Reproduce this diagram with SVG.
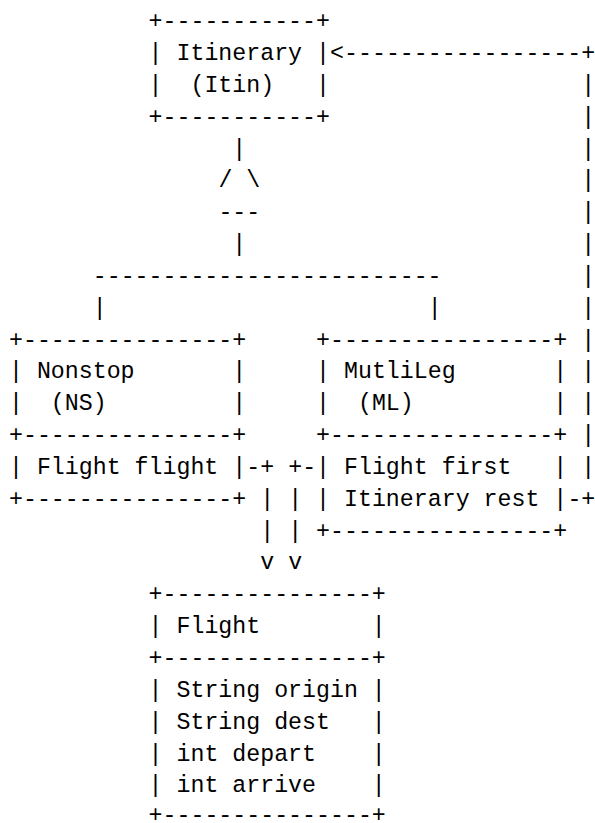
<svg xmlns="http://www.w3.org/2000/svg" width="595" height="823" viewBox="0 0 595 823">
  <style>
    text { font-family: "Liberation Mono", "DejaVu Sans Mono", monospace; font-size: 23.26px; fill: #000; white-space: pre; }
  </style>
  <rect x="0" y="0" width="595" height="823" fill="#fff"/>

  <!-- character grid: column c at x = 9 + 13.96*c, row n baseline at y = 28.2 + 31.84*(n-1) -->

  <g id="itinerary">
    <text x="148.6" y="28.2" xml:space="preserve">+-----------+</text>
    <text x="148.6" y="60.04" xml:space="preserve">| Itinerary |</text>
    <text x="148.6" y="91.88" xml:space="preserve">|  (Itin)   |</text>
    <text x="148.6" y="123.72" xml:space="preserve">+-----------+</text>
  </g>

  <g id="nonstop">
    <text x="9" y="346.6" xml:space="preserve">+---------------+</text>
    <text x="9" y="378.44" xml:space="preserve">| Nonstop       |</text>
    <text x="9" y="410.28" xml:space="preserve">|  (NS)         |</text>
    <text x="9" y="442.12" xml:space="preserve">+---------------+</text>
    <text x="9" y="473.96" xml:space="preserve">| Flight flight |</text>
    <text x="9" y="505.8" xml:space="preserve">+---------------+</text>
  </g>

  <g id="multileg">
    <text x="316.12" y="346.6" xml:space="preserve">+----------------+</text>
    <text x="316.12" y="378.44" xml:space="preserve">| MutliLeg       |</text>
    <text x="316.12" y="410.28" xml:space="preserve">|  (ML)          |</text>
    <text x="316.12" y="442.12" xml:space="preserve">+----------------+</text>
    <text x="316.12" y="473.96" xml:space="preserve">| Flight first   |</text>
    <text x="316.12" y="505.8" xml:space="preserve">| Itinerary rest |</text>
    <text x="316.12" y="537.64" xml:space="preserve">+----------------+</text>
  </g>

  <g id="flight">
    <text x="148.6" y="601.32" xml:space="preserve">+---------------+</text>
    <text x="148.6" y="633.16" xml:space="preserve">| Flight        |</text>
    <text x="148.6" y="665" xml:space="preserve">+---------------+</text>
    <text x="148.6" y="696.84" xml:space="preserve">| String origin |</text>
    <text x="148.6" y="728.68" xml:space="preserve">| String dest   |</text>
    <text x="148.6" y="760.52" xml:space="preserve">| int depart    |</text>
    <text x="148.6" y="792.36" xml:space="preserve">| int arrive    |</text>
    <!-- bottom edge lifted slightly so it stays inside the page -->
    <text x="148.6" y="822.4" xml:space="preserve">+---------------+</text>
  </g>

  <g id="connectors">
    <!-- generalisation: Nonstop and MutliLeg under Itinerary -->
    <g id="inheritance">
      <text x="232.36" y="155.56">|</text>
      <text x="218.4" y="187.4" xml:space="preserve">/ \</text>
      <text x="218.4" y="219.24">---</text>
      <text x="232.36" y="251.08">|</text>
      <text x="92.76" y="282.92">-------------------------</text>
      <text x="92.76" y="314.76">|</text>
      <text x="427.8" y="314.76">|</text>
    </g>

    <!-- MutliLeg.rest back to Itinerary -->
    <g id="rest-to-itinerary">
      <text x="330.08" y="60.04">&lt;-----------------+</text>
      <text x="581.36" y="91.88">|</text>
      <text x="581.36" y="123.72">|</text>
      <text x="581.36" y="155.56">|</text>
      <text x="581.36" y="187.4">|</text>
      <text x="581.36" y="219.24">|</text>
      <text x="581.36" y="251.08">|</text>
      <text x="581.36" y="282.92">|</text>
      <text x="581.36" y="314.76">|</text>
      <text x="581.36" y="346.6">|</text>
      <text x="581.36" y="378.44">|</text>
      <text x="581.36" y="410.28">|</text>
      <text x="581.36" y="442.12">|</text>
      <text x="581.36" y="473.96">|</text>
      <text x="567.4" y="505.8">-+</text>
    </g>

    <!-- Nonstop.flight to Flight -->
    <g id="flight-to-flight">
      <text x="246.32" y="473.96">-+</text>
      <text x="260.28" y="505.8">|</text>
      <text x="260.28" y="537.64">|</text>
      <text x="260.28" y="569.48">v</text>
    </g>

    <!-- MutliLeg.first to Flight -->
    <g id="first-to-flight">
      <text x="288.2" y="473.96">+-</text>
      <text x="288.2" y="505.8">|</text>
      <text x="288.2" y="537.64">|</text>
      <text x="288.2" y="569.48">v</text>
    </g>
  </g>
</svg>
